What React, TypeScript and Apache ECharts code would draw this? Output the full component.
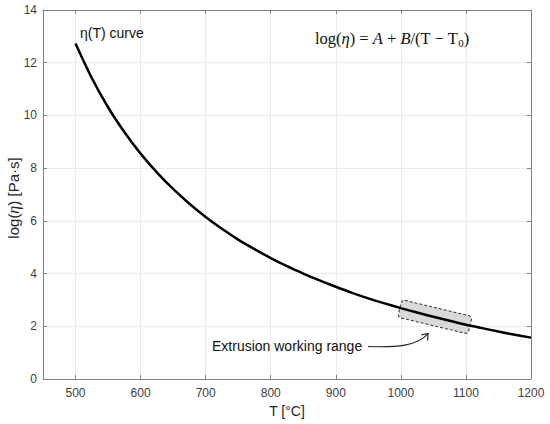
import React, { useEffect, useRef } from "react";
import * as echarts from "echarts";

const temperatures = [
  500, 525, 550, 575, 600, 625, 650, 675, 700, 725, 750, 775, 800, 825, 850,
  875, 900, 925, 950, 975, 1000, 1025, 1050, 1075, 1100, 1125, 1150, 1175, 1200,
];
const logViscosity = [
  12.73, 11.42, 10.31, 9.37, 8.55, 7.84, 7.21, 6.65, 6.15, 5.7, 5.29, 4.93,
  4.59, 4.28, 4.0, 3.74, 3.5, 3.27, 3.06, 2.87, 2.69, 2.52, 2.36, 2.21, 2.06,
  1.93, 1.8, 1.68, 1.57,
];
const xTicks = [500, 600, 700, 800, 900, 1000, 1100, 1200];
const yTicks = [0, 2, 4, 6, 8, 10, 12, 14];
const workingRange = [1000, 1100];
const curveLabel = "η(T) curve";
const rangeLabel = "Extrusion working range";

const SANS = "'Liberation Sans', Arial, Helvetica, sans-serif";
const SERIF = "'Liberation Serif', 'Times New Roman', serif";
const AXIS_COLOR = "#808080";
const GRID_COLOR = "#ebebeb";
const LABEL_COLOR = "#404040";

export default function App() {
  const ref = useRef<HTMLDivElement>(null);

  useEffect(() => {
    if (!ref.current) return;
    const chart = echarts.init(ref.current, null, { renderer: "svg" });
    const data = temperatures.map((t, i) => [t, logViscosity[i]]);

    const baseX = {
      type: "value" as const,
      min: 450,
      max: 1200,
    };
    const baseY = {
      type: "value" as const,
      min: yTicks[0],
      max: yTicks[yTicks.length - 1],
      interval: 2,
    };

    chart.setOption({
      animation: false,
      backgroundColor: "#ffffff",
      grid: { left: 43, right: 19, top: 10, bottom: 45, containLabel: false, outerBoundsMode: "none" },
      xAxis: [
        {
          ...baseX,
          position: "bottom",
          name: "T [°C]",
          nameLocation: "middle",
          nameGap: 25,
          nameTextStyle: { fontFamily: SANS, fontSize: 14, color: "#262626" },
          axisLine: { show: true, onZero: false, lineStyle: { color: AXIS_COLOR, width: 1 } },
          axisTick: { show: true, inside: true, length: 4, customValues: xTicks, lineStyle: { color: AXIS_COLOR } },
          axisLabel: {
            customValues: xTicks,
            color: LABEL_COLOR,
            fontFamily: SANS,
            fontSize: 12,
            margin: 8,
            formatter: (v: number) => String(v),
          },
          splitLine: { show: true, lineStyle: { color: GRID_COLOR, width: 1 } },
        },
        {
          ...baseX,
          position: "top",
          axisLine: { show: true, onZero: false, lineStyle: { color: AXIS_COLOR, width: 1 } },
          axisTick: { show: true, inside: true, length: 4, customValues: xTicks, lineStyle: { color: AXIS_COLOR } },
          axisLabel: { show: false },
          splitLine: { show: false },
        },
      ],
      yAxis: [
        {
          ...baseY,
          position: "left",
          axisLine: { show: true, onZero: false, lineStyle: { color: AXIS_COLOR, width: 1 } },
          axisTick: { show: true, inside: true, length: 4, lineStyle: { color: AXIS_COLOR } },
          axisLabel: {
            color: LABEL_COLOR,
            fontFamily: SANS,
            fontSize: 12,
            margin: 6,
            formatter: (v: number) => String(v),
          },
          splitLine: { show: true, lineStyle: { color: GRID_COLOR, width: 1 } },
        },
        {
          ...baseY,
          position: "right",
          axisLine: { show: true, onZero: false, lineStyle: { color: AXIS_COLOR, width: 1 } },
          axisTick: { show: true, inside: true, length: 4, lineStyle: { color: AXIS_COLOR } },
          axisLabel: { show: false },
          splitLine: { show: false },
        },
      ],
      series: [
        {
          type: "line",
          xAxisIndex: 0,
          yAxisIndex: 0,
          data,
          showSymbol: false,
          smooth: 0.3,
          z: 3,
          lineStyle: { color: "#000000", width: 2.5 },
        },
      ],
    });

    const i0 = temperatures.indexOf(workingRange[0]);
    const i1 = temperatures.indexOf(workingRange[1]);
    const p0 = chart.convertToPixel({ gridIndex: 0 }, [workingRange[0], logViscosity[i0]]) as number[];
    const p1 = chart.convertToPixel({ gridIndex: 0 }, [workingRange[1], logViscosity[i1]]) as number[];
    const cx = (p0[0] + p1[0]) / 2 + 1.5;
    const cy = (p0[1] + p1[1]) / 2 + 0.4;
    const dx = p1[0] - p0[0];
    const dy = p1[1] - p0[1];
    const len = Math.sqrt(dx * dx + dy * dy) + 5;
    const angle = Math.atan2(dy, dx) - 0.015;
    const h = 18;

    chart.setOption({
      graphic: [
        {
          type: "rect",
          x: cx,
          y: cy,
          rotation: -angle,
          z: 1,
          shape: { x: -len / 2, y: -h / 2, width: len, height: h, r: 3 },
          style: { fill: "#d9d9d9", stroke: "#333333", lineWidth: 1, lineDash: [3, 2] },
        },
        {
          type: "text",
          x: 13,
          y: 198,
          rotation: Math.PI / 2,
          z: 5,
          style: {
            text: "{n|log(}{i|η}{n|) [Pa·s]}",
            align: "center",
            verticalAlign: "middle",
            rich: {
              n: { fontFamily: SANS, fontSize: 15, fill: "#262626", lineHeight: 18 },
              i: { fontFamily: SERIF, fontStyle: "italic", fontSize: 16, fill: "#262626", lineHeight: 18 },
            },
          },
        },
        {
          type: "text",
          x: 80,
          y: 33,
          z: 5,
          style: {
            text: curveLabel,
            fill: "#111111",
            font: `14px ${SANS}`,
            align: "left",
            verticalAlign: "middle",
          },
        },
        {
          type: "text",
          x: 212,
          y: 345.5,
          z: 5,
          style: {
            text: rangeLabel,
            fill: "#111111",
            font: `14px ${SANS}`,
            align: "left",
            verticalAlign: "middle",
          },
        },
        {
          type: "bezierCurve",
          z: 5,
          shape: { x1: 368, y1: 346.5, cpx1: 396, cpy1: 347.5, cpx2: 418, cpy2: 346, x2: 428, y2: 333.5 },
          style: { stroke: "#222222", lineWidth: 1.2, fill: null },
        },
        {
          type: "polyline",
          z: 5,
          shape: { points: [[421.5, 334.8], [428, 333.5], [427.6, 340.5]] },
          style: { stroke: "#222222", lineWidth: 1.2, fill: null },
        },
        {
          type: "text",
          x: 315,
          y: 38.5,
          z: 5,
          style: {
            text: "{n|log(}{i|η}{n|) = }{i|A}{n| + }{i|B}{n|/(T − T}{s|0}{n|)}",
            align: "left",
            verticalAlign: "middle",
            rich: {
              n: { fontFamily: SERIF, fontSize: 16.5, fill: "#111111", lineHeight: 20 },
              i: { fontFamily: SERIF, fontSize: 16.5, fontStyle: "italic", fill: "#111111", lineHeight: 20 },
              s: { fontFamily: SERIF, fontSize: 11, fill: "#111111", lineHeight: 14, verticalAlign: "bottom" },
            },
          },
        },
      ],
    });

    return () => chart.dispose();
  }, []);

  return (
    <div
      ref={ref}
      style={{ position: "absolute", left: 0, top: 0, width: 550, height: 424, background: "#fff" }}
    />
  );
}
